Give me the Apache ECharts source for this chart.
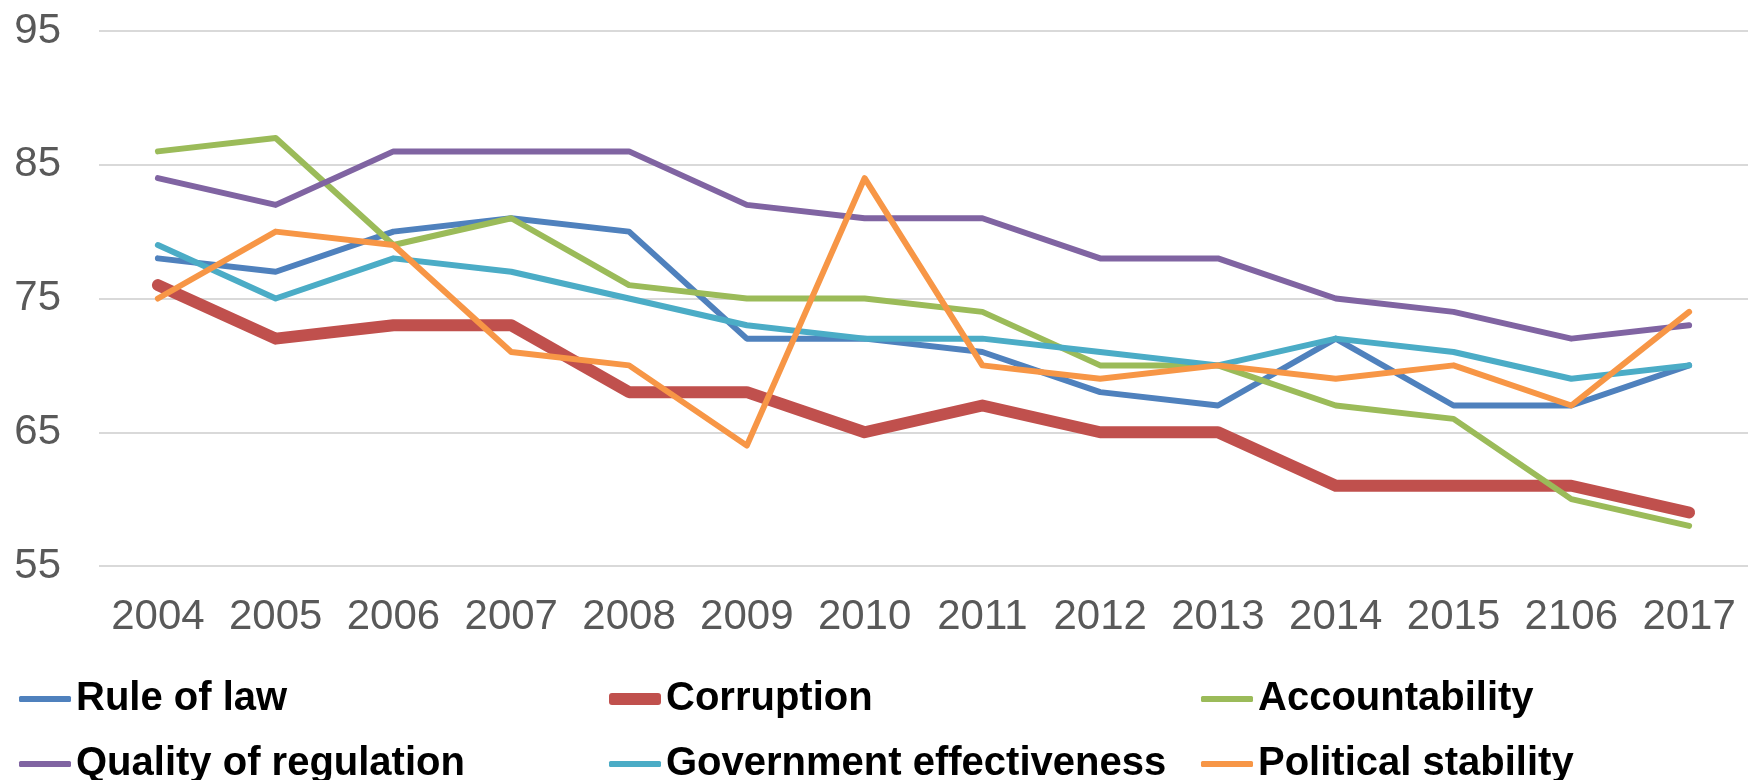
<!DOCTYPE html>
<html>
<head>
<meta charset="utf-8">
<script src="https://cdn.jsdelivr.net/npm/echarts@6/dist/echarts.min.js"></script>
<style>
html,body{margin:0;padding:0;background:#fff;}
#chart{width:1748px;height:780px;}
</style>
</head>
<body>
<div id="chart"></div>
<script>
const years = ['2004','2005','2006','2007','2008','2009','2010','2011','2012','2013','2014','2015','2106','2017'];
const ruleOfLaw = [78,77,80,81,80,72,72,71,68,67,72,67,67,70];
const corruption = [76,72,73,73,68,68,65,67,65,65,61,61,61,59];
const accountability = [86,87,79,81,76,75,75,74,70,70,67,66,60,58];
const qualityOfRegulation = [84,82,86,86,86,82,81,81,78,78,75,74,72,73];
const governmentEffectiveness = [79,75,78,77,75,73,72,72,71,70,72,71,69,70];
const politicalStability = [75,80,79,71,70,64,84,70,69,70,69,70,67,74];
const yTicks = {min:55, max:95, interval:10};

const seriesDefs = [
  {name:'Rule of law', data:ruleOfLaw, color:'#4F81BD', width:6},
  {name:'Corruption', data:corruption, color:'#C0504D', width:12},
  {name:'Accountability', data:accountability, color:'#9BBB59', width:6},
  {name:'Quality of regulation', data:qualityOfRegulation, color:'#8064A2', width:6},
  {name:'Government effectiveness', data:governmentEffectiveness, color:'#4BACC6', width:6},
  {name:'Political stability', data:politicalStability, color:'#F79646', width:6}
];
const legendPos = [
  {left:19, top:679}, {left:609, top:679}, {left:1201, top:679},
  {left:19, top:744}, {left:609, top:744}, {left:1201, top:744}
];
const FONT = 'Arial, "Liberation Sans", sans-serif';

const chart = echarts.init(document.getElementById('chart'));
chart.setOption({
  animation:false,
  backgroundColor:'#fff',
  grid:{left:99, top:31, width:1652, height:535, containLabel:false},
  xAxis:{
    type:'category', data:years, boundaryGap:true,
    axisLine:{show:false}, axisTick:{show:false},
    axisLabel:{color:'#595959', fontSize:42, fontFamily:FONT, margin:30, interval:0}
  },
  yAxis:{
    type:'value', min:yTicks.min, max:yTicks.max, interval:yTicks.interval,
    axisLine:{show:false}, axisTick:{show:false},
    axisLabel:{color:'#595959', fontSize:42, fontFamily:FONT, margin:38},
    splitLine:{lineStyle:{color:'#D9D9D9', width:2}}
  },
  legend: seriesDefs.map((s,i)=>({
    data:[s.name], left:legendPos[i].left, top:legendPos[i].top, padding:0,
    icon:'roundRect', itemWidth:52, itemHeight: s.width>10 ? 12 : 6,
    itemStyle:{color:s.color},
    textStyle:{color:'#000', fontSize:40, fontWeight:'bold', fontFamily:FONT},
    selectedMode:false
  })),
  series: seriesDefs.map(s=>({
    name:s.name, type:'line', data:s.data, showSymbol:false, symbol:'none',
    itemStyle:{color:s.color},
    lineStyle:{color:s.color, width:s.width, cap:'round', join:'round'},
    emphasis:{disabled:true}
  }))
});
</script>
</body>
</html>
